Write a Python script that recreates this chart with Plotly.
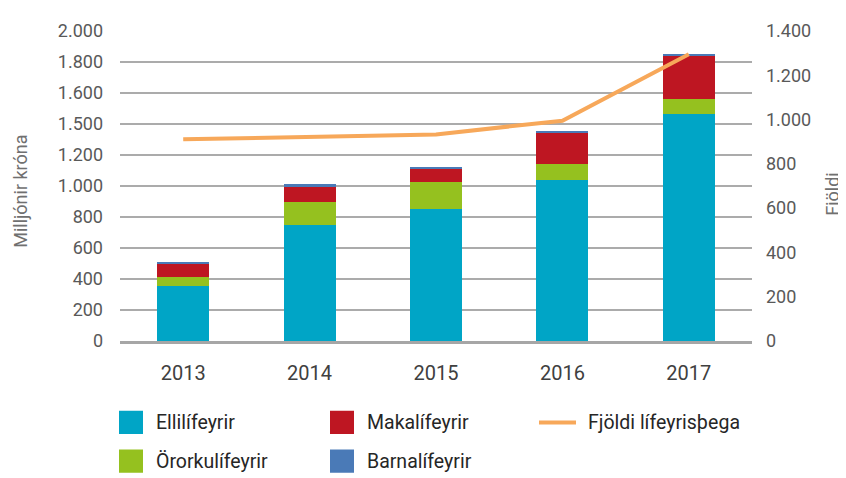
import plotly.graph_objects as go

years = ["2013", "2014", "2015", "2016", "2017"]
elli = [358, 750, 852, 1040, 1465]
ororku = [52, 144, 173, 102, 95]
maka = [85, 102, 83, 198, 280]
barna = [15, 16, 17, 14, 10]
fjoldi = [911, 922, 933, 995, 1295]

left_tickvals = [0, 200, 400, 600, 800, 1000, 1200, 1400, 1600, 1800, 2000]
left_ticktext = ["0", "200", "400", "600", "800", "1.000", "1.200", "1.500", "1.600", "1.800", "2.000"]
right_tickvals = [0, 200, 400, 600, 800, 1000, 1200, 1400]
right_ticktext = ["0", "200", "400", "600", "800", "1.000", "1.200", "1.400"]

bar_names = ["Ellilífeyrir", "Örorkulífeyrir", "Makalífeyrir", "Barnalífeyrir"]
bar_colors = ["#00A5C6", "#95C11F", "#BE1622", "#4A7AB7"]
line_name = "Fjöldi lífeyrisþega"
line_color = "#F7A85A"

# page offset caused by the default body margin of the html page
OFF = 8
W, H = 846 - OFF, 478 - OFF
PL, PR, PT, PB = 120, 752, 21, 341  # plot area in page pixels
L, T = PL - OFF, PT - OFF
PW, PH = PR - PL, PB - PT
R, B = W - L - PW, H - T - PH

FONT = "Roboto, 'Open Sans', sans-serif"

fig = go.Figure()
for name, vals, col in zip(bar_names, [elli, ororku, maka, barna], bar_colors):
    fig.add_trace(go.Bar(x=years, y=vals, name=name, marker=dict(color=col, line=dict(width=0)),
                         showlegend=False, yaxis="y"))
fig.add_trace(go.Scatter(x=years, y=fjoldi, name=line_name, mode="lines",
                         line=dict(color=line_color, width=4), yaxis="y2", showlegend=False))

def xp(px):
    return (px - PL) / PW

def yp(py):
    return (PB - py) / PH

shapes = []
annotations = []
legend_items = [
    (bar_names[0], bar_colors[0], "bar", 119, 425),
    (bar_names[1], bar_colors[1], "bar", 119, 465),
    (bar_names[2], bar_colors[2], "bar", 330, 425),
    (bar_names[3], bar_colors[3], "bar", 330, 465),
    (line_name, line_color, "line", 537, 425),
]
for name, col, kind, x0, yc in legend_items:
    if kind == "bar":
        shapes.append(dict(type="rect", xref="paper", yref="paper",
                           x0=xp(x0), x1=xp(x0 + 24), y0=yp(yc + 12), y1=yp(yc - 12),
                           fillcolor=col, line=dict(width=0)))
        tx = x0 + 35
    else:
        shapes.append(dict(type="line", xref="paper", yref="paper",
                           x0=xp(x0 + 2), x1=xp(x0 + 39), y0=yp(yc), y1=yp(yc),
                           line=dict(color=col, width=4)))
        tx = x0 + 49
    annotations.append(dict(text=name, xref="paper", yref="paper", x=xp(tx), y=yp(yc),
                            xanchor="left", yanchor="middle", showarrow=False,
                            font=dict(family=FONT, size=19.5, color="#262626")))

annotations.append(dict(text="Milljónir króna", xref="paper", yref="paper", x=xp(21), y=yp(187),
                        textangle=-90, xanchor="center", yanchor="middle", showarrow=False,
                        font=dict(family=FONT, size=18, color="#707070")))
annotations.append(dict(text="Fjöldi", xref="paper", yref="paper", x=xp(833), y=yp(190),
                        textangle=-90, xanchor="center", yanchor="middle", showarrow=False,
                        font=dict(family=FONT, size=18, color="#707070")))

fig.update_layout(
    width=W, height=H,
    margin=dict(l=L, r=R, t=T, b=B, pad=0),
    paper_bgcolor="white", plot_bgcolor="white",
    barmode="stack", bargap=0.59,
    showlegend=False,
    shapes=shapes, annotations=annotations,
    xaxis=dict(type="category", showline=True, linecolor="#A6A6A6", linewidth=3,
               showgrid=False, ticks="", ticklabelstandoff=12,
               tickfont=dict(family=FONT, size=20, color="#404040")),
    yaxis=dict(range=[0, 2000], tickvals=left_tickvals, ticktext=left_ticktext,
               showgrid=True, gridcolor="#ABABAB", gridwidth=1.5, zeroline=False,
               showline=False, ticks="", ticklabelstandoff=16,
               tickfont=dict(family=FONT, size=18, color="#595959")),
    yaxis2=dict(range=[0, 1400], tickvals=right_tickvals, ticktext=right_ticktext,
                overlaying="y", side="right", showgrid=False, zeroline=False,
                showline=False, ticks="", ticklabelstandoff=13,
                tickfont=dict(family=FONT, size=18, color="#595959")),
)

fig.write_html("out.html")
